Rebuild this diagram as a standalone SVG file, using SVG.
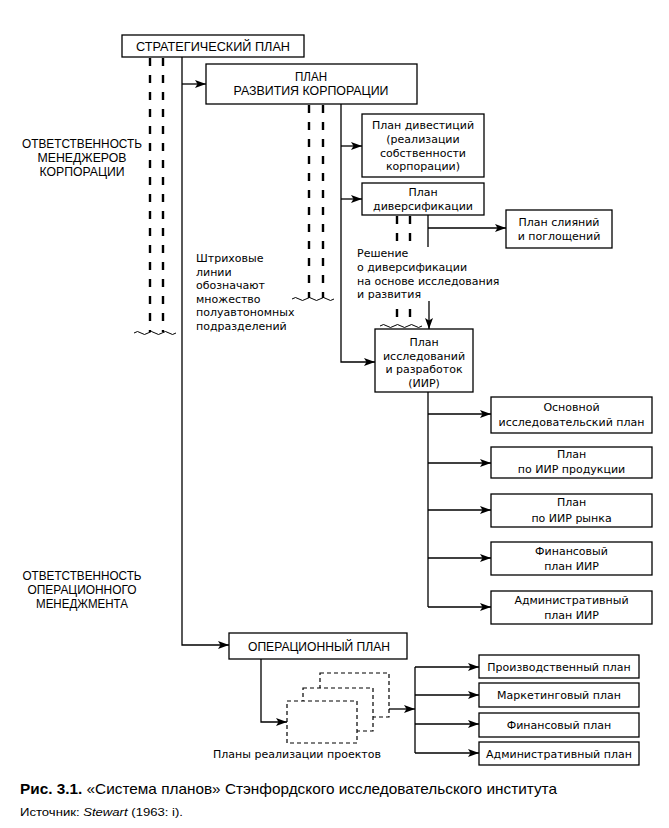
<svg xmlns="http://www.w3.org/2000/svg" width="669" height="828" viewBox="0 0 669 828">
<style>
.box{fill:#fff;stroke:#000;stroke-width:1.3}
.dbox{fill:#fff;stroke:#000;stroke-width:1.2;stroke-dasharray:4 3}
.ln{fill:none;stroke:#000;stroke-width:1.3}
.ar{marker-end:url(#ah)}
.dash{stroke:#000;stroke-width:2.4;stroke-dasharray:8 9;fill:none}
.wave{fill:none;stroke:#000;stroke-width:1}
.up{font-family:"Liberation Sans",Arial,sans-serif;font-size:13.5px;fill:#000}
.sm{font-size:12px}
.lc{font-family:"DejaVu Sans","Noto Sans",sans-serif;font-size:11px;fill:#000}
.c{text-anchor:middle}
</style>
<defs>
<marker id="ah" markerUnits="userSpaceOnUse" markerWidth="12" markerHeight="9" refX="11" refY="4" orient="auto">
<path d="M0,0 L11,4 L0,8 L2.5,4 z" fill="#000"/>
</marker>
</defs>
<rect width="669" height="828" fill="#fff"/>

<g id="connectors">
<path class="ln ar" d="M182,57 V645 H229"/>
<path class="ln ar" d="M182,84 H206"/>
<path class="ln ar" d="M341,104 V362 H375"/>
<path class="ln ar" d="M341,146 H362"/>
<path class="ln ar" d="M341,199 H362"/>
<path class="ln" d="M428,215 V247"/>
<path class="ln ar" d="M428,228 H506"/>
<path class="ln ar" d="M429,301 V329"/>
<path class="ln" d="M428,392 V607"/>
<path class="ln ar" d="M428,414 H491"/>
<path class="ln ar" d="M428,463 H491"/>
<path class="ln ar" d="M428,510 H491"/>
<path class="ln ar" d="M428,558 H491"/>
<path class="ln ar" d="M428,607 H491"/>
<path class="ln ar" d="M261,659 V722 H287"/>
<path class="ln ar" d="M389,709 H415"/>
<path class="ln" d="M415,667 V753"/>
<path class="ln ar" d="M415,667 H479"/>
<path class="ln ar" d="M415,695 H479"/>
<path class="ln ar" d="M415,724 H479"/>
<path class="ln ar" d="M415,753 H479"/>
</g>

<g id="subdivisions">
<path class="dash" d="M150,58 V332 M163,58 V332"/>
<path class="wave" d="M134,333 q3.5,-3 7,0 t7,0 t7,0 t7,0 t7,0 t7,0"/>
<path class="dash" d="M309,105 V298 M323,105 V298"/>
<path class="wave" d="M292,299 q3.5,-3 7,0 t7,0 t7,0 t7,0 t7,0 t7,0"/>
<path class="dash" d="M397,216 V243 M410,216 V243 M397,309 V325 M410,309 V325"/>
<path class="wave" d="M380,326 q3.5,-3 7,0 t7,0 t7,0 t7,0 t7,0 t7,0"/>
</g>

<g id="strategic">
<rect class="box" x="122" y="35" width="182" height="22"/>
<text class="up c" x="213" y="51" textLength="154" lengthAdjust="spacingAndGlyphs">СТРАТЕГИЧЕСКИЙ ПЛАН</text>
</g>
<g id="development">
<rect class="box" x="206" y="64" width="211" height="40"/>
<text class="up sm c" x="311" y="81" textLength="32" lengthAdjust="spacingAndGlyphs">ПЛАН</text>
<text class="up sm c" x="311" y="95" textLength="155" lengthAdjust="spacingAndGlyphs">РАЗВИТИЯ КОРПОРАЦИИ</text>
</g>
<g id="divestment">
<rect class="box" x="362" y="114" width="122" height="63"/>
<text class="lc c" x="423" y="129">План дивестиций</text>
<text class="lc c" x="423" y="143">(реализации</text>
<text class="lc c" x="423" y="157">собственности</text>
<text class="lc c" x="423" y="170">корпорации)</text>
</g>
<g id="diversification">
<rect class="box" x="362" y="183" width="122" height="32"/>
<text class="lc c" x="423" y="196">План</text>
<text class="lc c" x="423" y="210">диверсификации</text>
</g>
<g id="mergers">
<rect class="box" x="506" y="210" width="106" height="38"/>
<text class="lc c" x="559" y="226">План слияний</text>
<text class="lc c" x="559" y="240">и поглощений</text>
</g>
<g id="decision-note">
<text class="lc" x="357" y="257">Решение</text>
<text class="lc" x="357" y="271">о диверсификации</text>
<text class="lc" x="357" y="285">на основе исследования</text>
<text class="lc" x="357" y="298">и развития</text>
</g>
<g id="dashed-note">
<text class="lc" x="196" y="262">Штриховые</text>
<text class="lc" x="196" y="276">линии</text>
<text class="lc" x="196" y="289">обозначают</text>
<text class="lc" x="196" y="303">множество</text>
<text class="lc" x="196" y="316">полуавтономных</text>
<text class="lc" x="196" y="330">подразделений</text>
</g>
<g id="rnd">
<rect class="box" x="375" y="329" width="98" height="63"/>
<text class="lc c" x="424" y="346">План</text>
<text class="lc c" x="424" y="360">исследований</text>
<text class="lc c" x="424" y="373">и разработок</text>
<text class="lc c" x="424" y="387">(ИИР)</text>
</g>
<g id="basic-research">
<rect class="box" x="491" y="397" width="161" height="36"/>
<text class="lc c" x="571.5" y="411">Основной</text>
<text class="lc c" x="571.5" y="426">исследовательский план</text>
</g>
<g id="product-rnd">
<rect class="box" x="491" y="447" width="161" height="31"/>
<text class="lc c" x="571.5" y="458">План</text>
<text class="lc c" x="571.5" y="473">по ИИР продукции</text>
</g>
<g id="market-rnd">
<rect class="box" x="491" y="494" width="161" height="33"/>
<text class="lc c" x="571.5" y="506">План</text>
<text class="lc c" x="571.5" y="522">по ИИР рынка</text>
</g>
<g id="finance-rnd">
<rect class="box" x="491" y="542" width="161" height="33"/>
<text class="lc c" x="571.5" y="555">Финансовый</text>
<text class="lc c" x="571.5" y="570">план ИИР</text>
</g>
<g id="admin-rnd">
<rect class="box" x="491" y="591" width="161" height="33"/>
<text class="lc c" x="571.5" y="604">Административный</text>
<text class="lc c" x="571.5" y="619">план ИИР</text>
</g>
<g id="responsibility-corp">
<text class="up sm c" x="82" y="148" textLength="120" lengthAdjust="spacingAndGlyphs">ОТВЕТСТВЕННОСТЬ</text>
<text class="up sm c" x="82" y="162" textLength="89" lengthAdjust="spacingAndGlyphs">МЕНЕДЖЕРОВ</text>
<text class="up sm c" x="82" y="176" textLength="85" lengthAdjust="spacingAndGlyphs">КОРПОРАЦИИ</text>
</g>
<g id="responsibility-op">
<text class="up sm c" x="82" y="580" textLength="119" lengthAdjust="spacingAndGlyphs">ОТВЕТСТВЕННОСТЬ</text>
<text class="up sm c" x="82" y="594" textLength="109" lengthAdjust="spacingAndGlyphs">ОПЕРАЦИОННОГО</text>
<text class="up sm c" x="82" y="608" textLength="92" lengthAdjust="spacingAndGlyphs">МЕНЕДЖМЕНТА</text>
</g>
<g id="operational">
<rect class="box" x="229" y="633" width="178" height="26"/>
<text class="up c" x="319" y="651" textLength="142" lengthAdjust="spacingAndGlyphs">ОПЕРАЦИОННЫЙ ПЛАН</text>
</g>
<g id="project-plans">
<rect class="dbox" x="320" y="673" width="69" height="44"/>
<rect class="dbox" x="303" y="688" width="70" height="43"/>
<rect class="dbox" x="287" y="701" width="70" height="42"/>
<text class="lc c" x="297" y="758">Планы реализации проектов</text>
</g>
<g id="production">
<rect class="box" x="479" y="655" width="160" height="23"/>
<text class="lc c" x="559" y="671">Производственный план</text>
</g>
<g id="marketing">
<rect class="box" x="479" y="683" width="160" height="24"/>
<text class="lc c" x="559" y="699">Маркетинговый план</text>
</g>
<g id="financial">
<rect class="box" x="479" y="713" width="160" height="24"/>
<text class="lc c" x="559" y="729">Финансовый план</text>
</g>
<g id="administrative">
<rect class="box" x="479" y="742" width="160" height="23"/>
<text class="lc c" x="559" y="758">Административный план</text>
</g>
<g id="caption">
<text x="20" y="794" font-family="'Liberation Sans',Arial,sans-serif" font-size="14.5px" textLength="537" lengthAdjust="spacingAndGlyphs"><tspan font-weight="bold">Рис. 3.1.</tspan> «Система планов» Стэнфордского исследовательского института</text>
<text x="20" y="816" font-family="'Liberation Sans',Arial,sans-serif" font-size="11.5px" textLength="163" lengthAdjust="spacingAndGlyphs">Источник: <tspan font-style="italic">Stewart</tspan> (1963: i).</text>
</g>
</svg>
